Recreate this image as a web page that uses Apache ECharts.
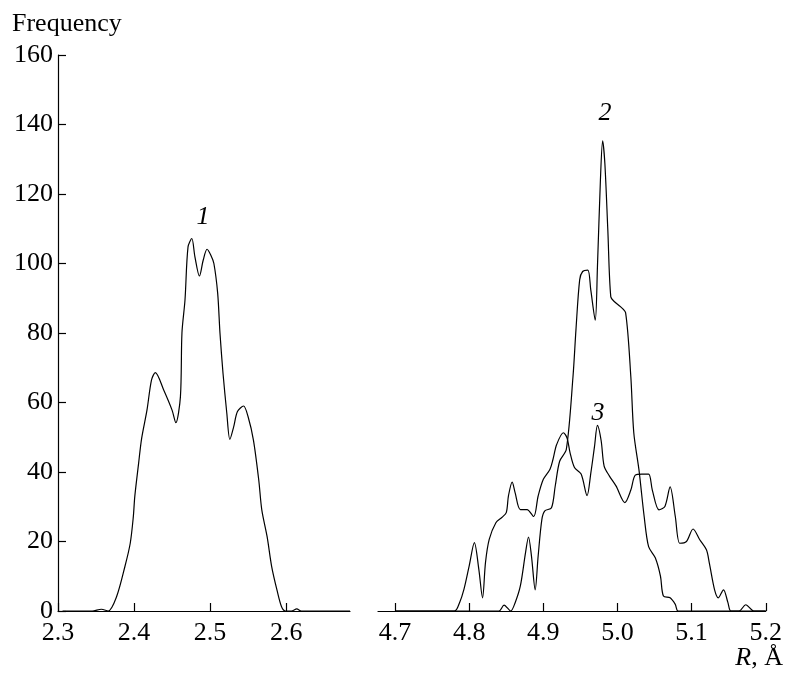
<!DOCTYPE html>
<html>
<head>
<meta charset="utf-8">
<script src="https://cdn.jsdelivr.net/npm/echarts@6/dist/echarts.min.js"></script>
<style>html,body{margin:0;padding:0;background:#fff;}#c{width:785px;height:675px;}</style>
</head>
<body>
<div id="c"></div>
<script>
// Curve 1 (R ~ 2.5 Å)
const r1 = [2.306, 2.345, 2.357, 2.366, 2.377, 2.388, 2.395, 2.399, 2.401, 2.406, 2.41, 2.417, 2.423, 2.428, 2.439, 2.45, 2.455, 2.461, 2.463, 2.467, 2.471, 2.476, 2.48, 2.486, 2.491, 2.496, 2.501, 2.505, 2.51, 2.513, 2.517, 2.522, 2.526, 2.531, 2.536, 2.544, 2.55, 2.557, 2.564, 2.568, 2.575, 2.581, 2.588, 2.594, 2.599, 2.607, 2.614, 2.62, 2.684];
const f1 = [0, 0, 0.5, 0, 4.1, 12.8, 19.5, 27, 33, 42.5, 49.7, 57.8, 66.5, 68.6, 63.6, 57.8, 54.2, 61.7, 80, 89.5, 104.8, 107.2, 102, 96.4, 101, 104.1, 102.4, 100, 91.4, 80, 68.4, 56.9, 49.4, 53, 57.4, 59, 55.9, 49.2, 37.7, 29.1, 21.4, 12.8, 6, 1.2, 0, 0, 0.6, 0, 0];
// Curve 2 (R ~ 4.98 Å)
const r2 = [4.7, 4.84, 4.847, 4.856, 4.862, 4.869, 4.876, 4.88, 4.884, 4.889, 4.893, 4.898, 4.902, 4.911, 4.916, 4.922, 4.931, 4.94, 4.944, 4.949, 4.953, 4.96, 4.964, 4.97, 4.973, 4.977, 4.98, 4.983, 4.987, 4.991, 4.996, 5.004, 5.011, 5.018, 5.022, 5.029, 5.036, 5.042, 5.051, 5.058, 5.062, 5.071, 5.078, 5.082, 5.2];
const f2 = [0, 0, 1.7, 0, 2.4, 7.2, 16.8, 21.3, 15.8, 6.1, 15.8, 26.3, 28.8, 29.7, 35.9, 43.1, 46.5, 67.4, 80.9, 95.3, 97.7, 98.1, 92.4, 83.7, 99.1, 124, 135.3, 128.8, 109.6, 90.4, 89, 87.6, 85.8, 67.5, 51.3, 40.6, 27.2, 18.5, 15.3, 10, 4.3, 3.8, 1.9, 0, 0];
// Curve 3
const r3 = [4.7, 4.78, 4.787, 4.793, 4.8, 4.807, 4.813, 4.818, 4.822, 4.827, 4.836, 4.844, 4.85, 4.853, 4.858, 4.862, 4.869, 4.878, 4.887, 4.893, 4.9, 4.909, 4.913, 4.918, 4.927, 4.932, 4.936, 4.942, 4.951, 4.959, 4.964, 4.969, 4.973, 4.978, 4.982, 4.989, 4.998, 5.01, 5.018, 5.024, 5.033, 5.042, 5.047, 5.056, 5.064, 5.071, 5.078, 5.084, 5.093, 5.102, 5.111, 5.12, 5.124, 5.131, 5.136, 5.143, 5.149, 5.153, 5.164, 5.173, 5.184, 5.2];
const f3 = [0, 0, 2.4, 6.3, 13, 19.7, 12, 3.8, 14, 20.6, 25.4, 26.9, 28.3, 33.2, 37.1, 34, 29.2, 29.2, 27.2, 33.1, 37.9, 40.8, 43.6, 47.9, 51.3, 49.8, 45.6, 41.3, 39.4, 33.2, 39.6, 47.3, 53.4, 49, 41.7, 38.9, 36, 31.2, 34.8, 39.1, 39.4, 39.4, 34.8, 29.1, 30.1, 35.7, 27.2, 19.5, 20, 23.6, 20.5, 17.6, 13.7, 6.1, 3.8, 6.1, 2.4, 0, 0, 1.8, 0, 0];
const ticksLeft = [2.3, 2.4, 2.5, 2.6];
const ticksRight = [4.7, 4.8, 4.9, 5.0, 5.1, 5.2];
const yTicks = [0, 20, 40, 60, 80, 100, 120, 140, 160];

const zip = (a, b) => a.map((v, i) => [v, b[i]]);
const FONT = 'Liberation Serif';
const FS = 26;
const lineStyle = { color: '#000', width: 1.2 };
function xAxis(gi, min, max, ticks) {
  return {
    type: 'value', gridIndex: gi, min: min, max: max,
    axisLine: { show: true, onZero: false, lineStyle: { color: '#000', width: 1.2 } },
    axisTick: { show: true, inside: true, length: 8, lineStyle: { color: '#000', width: 1.2 }, customValues: ticks },
    axisLabel: { show: true, customValues: ticks, margin: 9, color: '#000', fontFamily: FONT, fontSize: FS,
      formatter: v => Number(v).toFixed(1) },
    splitLine: { show: false }
  };
}
const chart = echarts.init(document.getElementById('c'), null, { renderer: 'canvas' });
chart.setOption({
  backgroundColor: '#fff',
  animation: false,
  grid: [
    { left: 58, right: 435, top: 55, bottom: 64 },
    { left: 378, right: 15, top: 55, bottom: 64 }
  ],
  xAxis: [xAxis(0, 2.3, 2.684, ticksLeft), xAxis(1, 4.677, 5.2, ticksRight)],
  yAxis: [
    { type: 'value', gridIndex: 0, min: 0, max: 160, interval: 20,
      axisLine: { show: true, lineStyle: { color: '#000', width: 1.2 } },
      axisTick: { show: true, inside: true, length: 8, lineStyle: { color: '#000', width: 1.2 }, customValues: yTicks },
      axisLabel: { margin: 5, color: '#000', fontFamily: FONT, fontSize: FS, customValues: yTicks },
      splitLine: { show: false } },
    { type: 'value', gridIndex: 1, min: 0, max: 160, interval: 20, show: false, splitLine: { show: false } }
  ],
  series: [
    { type: 'line', xAxisIndex: 0, yAxisIndex: 0, data: zip(r1, f1), showSymbol: false, smooth: 0.3, lineStyle: lineStyle },
    { type: 'line', xAxisIndex: 1, yAxisIndex: 1, data: zip(r2, f2), showSymbol: false, smooth: 0.3, lineStyle: lineStyle },
    { type: 'line', xAxisIndex: 1, yAxisIndex: 1, data: zip(r3, f3), showSymbol: false, smooth: 0.3, lineStyle: lineStyle }
  ],
  graphic: [
    { type: 'text', left: 12, top: 11, style: { text: 'Frequency', fontFamily: FONT, fontSize: FS, fill: '#000' } },
    { type: 'text', x: 203, y: 217, style: { text: '1', fontFamily: FONT, fontStyle: 'italic', fontSize: FS, fill: '#000', align: 'center', verticalAlign: 'middle' } },
    { type: 'text', x: 605, y: 113, style: { text: '2', fontFamily: FONT, fontStyle: 'italic', fontSize: FS, fill: '#000', align: 'center', verticalAlign: 'middle' } },
    { type: 'text', x: 598, y: 413, style: { text: '3', fontFamily: FONT, fontStyle: 'italic', fontSize: FS, fill: '#000', align: 'center', verticalAlign: 'middle' } },
    { type: 'text', x: 783, y: 658, style: { text: '{i|R}, Å', fontFamily: FONT, fontSize: FS, fill: '#000', align: 'right', verticalAlign: 'middle',
      rich: { i: { fontFamily: FONT, fontStyle: 'italic', fontSize: FS, fill: '#000' } } } }
  ]
});
</script>
</body>
</html>
